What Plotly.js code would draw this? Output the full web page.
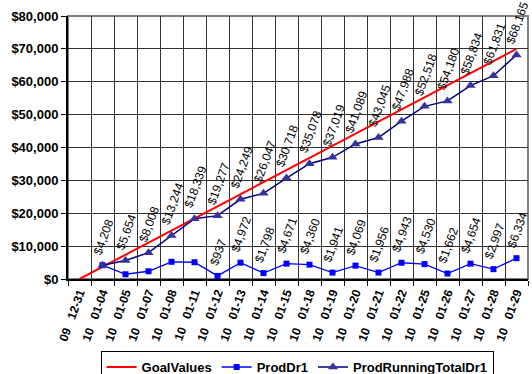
<!DOCTYPE html>
<html>
<head>
<meta charset="utf-8">
<script src="https://cdn.plot.ly/plotly-3.0.1.min.js"></script>
<style>html,body{margin:0;padding:0;background:#fff;}#chart{width:532px;height:374px;}</style>
</head>
<body>
<div id="chart"></div>
<script>
var categories = ["09\u00A0\u00A0\u00A012-31","10\u00A0\u00A0\u00A001-04","10\u00A0\u00A0\u00A001-05","10\u00A0\u00A0\u00A001-07","10\u00A0\u00A0\u00A001-08","10\u00A0\u00A0\u00A001-11","10\u00A0\u00A0\u00A001-12","10\u00A0\u00A0\u00A001-13","10\u00A0\u00A0\u00A001-14","10\u00A0\u00A0\u00A001-15","10\u00A0\u00A0\u00A001-18","10\u00A0\u00A0\u00A001-19","10\u00A0\u00A0\u00A001-20","10\u00A0\u00A0\u00A001-21","10\u00A0\u00A0\u00A001-22","10\u00A0\u00A0\u00A001-25","10\u00A0\u00A0\u00A001-26","10\u00A0\u00A0\u00A001-27","10\u00A0\u00A0\u00A001-28","10\u00A0\u00A0\u00A001-29"];
var goalValues = [0, 3684, 7368, 11053, 14737, 18421, 22105, 25789, 29474, 33158, 36842, 40526, 44211, 47895, 51579, 55263, 58947, 62632, 66316, 70000];
var prodDr1 = [null, 4208, 1446, 2354, 5236, 5095, 937, 4972, 1798, 4671, 4360, 1941, 4069, 1956, 4943, 4530, 1662, 4654, 2997, 6334];
var prodRunningTotalDr1 = [null, 4208, 5654, 8008, 13244, 18339, 19277, 24249, 26047, 30718, 35078, 37019, 41089, 43045, 47988, 52518, 54180, 58834, 61831, 68165];
var prodDr1Labelled = [false, false, false, false, false, false, true, true, true, true, true, true, true, true, true, true, true, true, true, true];

function money(v){ return '$' + v.toLocaleString('en-US'); }

var traces = [
  {name:'GoalValues', x:categories, y:goalValues, type:'scatter', mode:'lines',
   line:{color:'#FF0000', width:2}},
  {name:'ProdDr1', x:categories, y:prodDr1, type:'scatter', mode:'lines+markers',
   line:{color:'#0000FF', width:1.3}, marker:{symbol:'square', size:6, color:'#0000FF'}},
  {name:'ProdRunningTotalDr1', x:categories, y:prodRunningTotalDr1, type:'scatter', mode:'lines+markers',
   line:{color:'#000080', width:1.5}, marker:{symbol:'triangle-up', size:9, color:'#333399'}}
];

var annotations = [];
for (var i = 0; i < categories.length; i++) {
  if (prodRunningTotalDr1[i] != null) {
    annotations.push({x:categories[i], y:prodRunningTotalDr1[i], xref:'x', yref:'y',
      text:money(prodRunningTotalDr1[i]), showarrow:false, textangle:-70,
      xanchor:'center', yanchor:'bottom', yshift:6, xshift:1,
      font:{family:'Liberation Sans, Arial, sans-serif', size:12, color:'#000'}});
  }
  if (prodDr1[i] != null && prodDr1Labelled[i]) {
    annotations.push({x:categories[i], y:prodDr1[i], xref:'x', yref:'y',
      text:money(prodDr1[i]), showarrow:false, textangle:-70,
      xanchor:'center', yanchor:'bottom', yshift:6, xshift:1,
      font:{family:'Liberation Sans, Arial, sans-serif', size:12, color:'#000'}});
  }
}

var layout = {
  width:532, height:374,
  margin:{l:68, r:4, t:16, b:95, pad:0, autoexpand:false},
  paper_bgcolor:'#fff', plot_bgcolor:'#fff',
  font:{family:'Liberation Sans, Arial, sans-serif', color:'#000'},
  showlegend:true,
  legend:{orientation:'h', x:0.498, xanchor:'center', y:-0.274, yanchor:'top',
    bordercolor:'#000', borderwidth:1, font:{size:13, weight:'bold'},
    itemwidth:30, tracegroupgap:0},
  xaxis:{type:'category', range:[-0.5, 19.5], tickson:'boundaries', showgrid:true,
    gridcolor:'#333', gridwidth:1, showline:true, linecolor:'#000', linewidth:2,
    ticks:'outside', ticklen:5, tickcolor:'#000', tickangle:-70, automargin:false,
    tickfont:{size:12, weight:'bold'}, fixedrange:true, zeroline:false},
  yaxis:{range:[0, 80000], dtick:10000, tickprefix:'$', tickformat:',d', showgrid:true,
    gridcolor:'#333', gridwidth:1, showline:true, linecolor:'#000', linewidth:2,
    ticks:'outside', ticklen:5, tickcolor:'#000', zeroline:false, automargin:false,
    tickfont:{size:13, weight:'bold'}, fixedrange:true},
  shapes:[{type:'rect', xref:'paper', yref:'paper', x0:0, x1:1, y0:0, y1:1,
    line:{color:'#808080', width:2}, layer:'below'}],
  annotations:annotations
};

Plotly.newPlot('chart', traces, layout, {staticPlot:true, displayModeBar:false});
</script>
</body>
</html>
